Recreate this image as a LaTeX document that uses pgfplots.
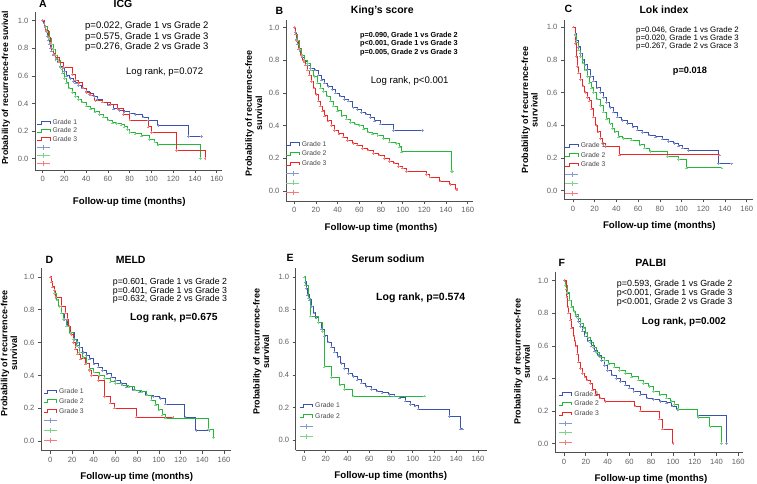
\documentclass[border=0pt]{standalone}
\usepackage{fontspec}
\setmainfont{Liberation Sans}
\usepackage{pgfplots}
\pgfplotsset{compat=1.18}
\definecolor{kmblue}{RGB}{58,82,176}
\definecolor{kmgreen}{RGB}{36,184,56}
\definecolor{kmred}{RGB}{240,36,36}
\definecolor{ticklab}{RGB}{96,96,96}
\definecolor{spine}{RGB}{80,80,80}
\definecolor{legtext}{RGB}{70,70,70}
\newcommand{\fs}[1]{\fontsize{#1}{#1}\selectfont}
\pgfplotsset{
  km/.style={scale only axis, axis x line*=bottom, axis y line*=left,
    axis line style={spine, line width=0.6pt, -}, tick style={spine, line width=0.6pt},
    tick align=outside, major tick length=3pt,
    xtick={0,20,...,160}, ytick={0,0.2,0.4,0.6,0.8,1.0},
    yticklabel style={/pgf/number format/fixed, /pgf/number format/fixed zerofill, /pgf/number format/precision=1},
    ticklabel style={font=\fs{7.6}, text=ticklab},
    /pgf/number format/assume math mode=true,
    clip=false,
    legend cell align=left,
    legend style={draw=none, fill=none, inner sep=0pt, outer sep=0pt, column sep=2pt,
      font=\fs{6.8}, text=legtext, nodes={inner sep=0pt, text height=5pt, text depth=1pt}, anchor=north west}},
  kml/.style={const plot, line width=1pt, color=#1, mark=+, mark size=1.2pt, mark options={#1!60, line width=0.5pt}, forget plot},
  stepicon/.style={legend image code/.code={\draw[##1, mark=none] (0pt,-1.5pt) -- (4pt,-1.5pt) -- (4pt,1.5pt) -- (13pt,1.5pt) -- (13pt,-1.5pt);}},
  crossicon/.style={legend image code/.code={\draw[##1, mark=none] (0pt,0pt) -- (13pt,0pt); \draw[##1, mark=none] (6.5pt,-2.5pt) -- (6.5pt,2.5pt);}},
}
\newcommand{\threelegend}{%
  \addlegendimage{stepicon, kmblue, line width=0.9pt}\addlegendentry{Grade 1}
  \addlegendimage{stepicon, kmgreen, line width=0.9pt}\addlegendentry{Grade 2}
  \addlegendimage{stepicon, kmred, line width=0.9pt}\addlegendentry{Grade 3}
  \addlegendimage{crossicon, kmblue!60, line width=0.6pt}\addlegendentry{}
  \addlegendimage{crossicon, kmgreen!60, line width=0.6pt}\addlegendentry{}
  \addlegendimage{crossicon, kmred!60, line width=0.6pt}\addlegendentry{}}
\begin{document}
\begin{tikzpicture}[x=1pt,y=1pt]
\useasboundingbox (0,0) rectangle (757,484);

% ---------------- A: ICG
\begin{axis}[km, at={(35pt,314pt)}, anchor=south west, width=186.7pt, height=158.3pt,
  xmin=-7.08, xmax=164.6, ymin=-0.082, ymax=1.065,
  legend style={at={(0.009,0.318)}, row sep=2.2pt}]
\addplot[kml=kmblue] coordinates {(0,1)(1,0.98)(2,0.95)(3,0.92)(4,0.89)(5,0.86)(6,0.83)(7,0.80)(8,0.78)(10,0.75)(12,0.72)(14,0.70)(16,0.67)(18,0.65)(20,0.63)(22,0.60)(25,0.58)(28,0.56)(30,0.55)(33,0.53)(36,0.51)(40,0.49)(43,0.47)(47,0.45)(50,0.43)(55,0.41)(60,0.39)(65,0.36)(70,0.35)(75,0.34)(80,0.33)(85,0.32)(92,0.30)(97,0.28)(106,0.24)(134,0.16)(146,0.16)};
\addplot[kml=kmgreen] coordinates {(0,1)(2,0.96)(4,0.92)(6,0.87)(8,0.83)(10,0.79)(12,0.75)(14,0.71)(16,0.66)(18,0.62)(20,0.58)(22,0.55)(24,0.51)(27,0.48)(30,0.45)(33,0.43)(36,0.41)(40,0.38)(44,0.36)(48,0.34)(52,0.32)(56,0.30)(60,0.28)(64,0.26)(68,0.255)(72,0.245)(75,0.23)(78,0.21)(80,0.19)(85,0.18)(91,0.165)(98,0.14)(103,0.12)(106,0.10)(145,0)};
\addplot[kml=kmred] coordinates {(0,1)(2,0.96)(3,0.93)(5,0.88)(7,0.84)(8,0.80)(10,0.76)(12,0.73)(15,0.70)(19,0.66)(27,0.61)(30,0.57)(33,0.55)(37,0.51)(40,0.48)(44,0.46)(48,0.42)(55,0.41)(62,0.39)(69,0.36)(74,0.32)(80,0.28)(97,0.23)(100,0.19)(123,0.06)(149.5,0)};
\threelegend
\end{axis}

% ---------------- B: King's score
\begin{axis}[km, at={(286pt,283pt)}, anchor=south west, width=187.3pt, height=181pt,
  xmin=-7.66, xmax=165.2, ymin=-0.0612, ymax=1.047,
  legend style={at={(0.0,0.331)}, row sep=3.7pt}]
\addplot[kml=kmblue] coordinates {(0,1)(1,0.97)(2,0.93)(3,0.90)(5,0.86)(7,0.82)(9,0.79)(12,0.77)(15,0.75)(19,0.74)(22,0.71)(25,0.68)(28,0.66)(31,0.64)(35,0.62)(38,0.60)(42,0.58)(46,0.56)(50,0.55)(54,0.51)(58,0.50)(62,0.48)(66,0.47)(70,0.45)(74,0.43)(79.6,0.41)(91.6,0.37)(118.4,0.37)};
\addplot[kml=kmgreen] coordinates {(0,1)(1,0.96)(3,0.92)(5,0.87)(7,0.83)(9,0.80)(12,0.78)(15,0.74)(18,0.70)(21,0.66)(24,0.63)(27,0.61)(30,0.58)(33,0.55)(36,0.52)(40,0.49)(44,0.46)(48,0.44)(52,0.42)(56,0.41)(60,0.40)(64,0.38)(68,0.36)(72,0.35)(77,0.34)(82,0.32)(88,0.30)(94.5,0.29)(97,0.27)(99,0.24)(145.2,0.12)(146,0.12)};
\addplot[kml=kmred] coordinates {(0,1)(1,0.96)(2,0.92)(4,0.87)(6,0.83)(8,0.80)(10,0.77)(12,0.74)(14,0.71)(16,0.67)(18,0.63)(20,0.59)(22,0.55)(24,0.52)(26,0.49)(28,0.46)(31,0.43)(34,0.40)(37,0.37)(41,0.35)(45,0.33)(49,0.31)(54,0.29)(58,0.28)(63,0.26)(68,0.25)(73,0.23)(78,0.22)(83,0.20)(88,0.18)(92,0.17)(96,0.15)(100,0.14)(103.7,0.12)(122,0.10)(125,0.085)(134.4,0.06)(143.6,0.04)(149,0.01)(150,0.01)};
\threelegend
\end{axis}

% ---------------- C: Lok index
\begin{axis}[km, at={(564pt,284.7pt)}, anchor=south west, width=189.3pt, height=179.3pt,
  xmin=-8.29, xmax=166.1, ymin=-0.0526, ymax=1.0447,
  legend style={at={(0.005,0.316)}, row sep=3.5pt}]
\addplot[kml=kmblue] coordinates {(0,1)(2,0.96)(3,0.92)(5,0.88)(7,0.84)(9,0.80)(11,0.77)(13,0.74)(16,0.70)(19,0.67)(22,0.63)(25,0.60)(28,0.57)(31,0.54)(34,0.51)(37,0.48)(41,0.45)(45,0.43)(50,0.41)(55,0.39)(59,0.37)(64,0.355)(70,0.34)(76,0.33)(82,0.315)(88,0.30)(93,0.29)(97,0.275)(101,0.26)(106,0.245)(134,0.165)(146,0.165)};
\addplot[kml=kmgreen] coordinates {(0,1)(2,0.95)(3,0.91)(5,0.86)(7,0.82)(9,0.78)(11,0.74)(13,0.70)(15,0.66)(17,0.63)(19,0.60)(22,0.56)(25,0.52)(28,0.48)(31,0.44)(34,0.41)(36,0.38)(38.6,0.36)(42,0.33)(46,0.32)(54,0.31)(61.6,0.28)(66,0.26)(70.8,0.24)(87,0.21)(97,0.19)(104.5,0.14)(137,0.14)};
\addplot[kml=kmred] coordinates {(0,1)(2,0.90)(3,0.82)(4,0.76)(5,0.72)(7,0.68)(9,0.64)(11,0.60)(13,0.57)(15,0.55)(17,0.50)(19,0.45)(21,0.40)(23,0.36)(25,0.32)(27,0.29)(29.5,0.27)(43,0.22)(135,0.22)};
\threelegend
\end{axis}

% ---------------- D: MELD
\begin{axis}[km, at={(41pt,33.3pt)}, anchor=south west, width=189.7pt, height=182.4pt,
  xmin=-8.57, xmax=166.2, ymin=-0.0591, ymax=1.053,
  legend style={at={(0.012,0.34)}, row sep=3.7pt}]
\addplot[kml=kmblue] coordinates {(0,1)(1,0.97)(2,0.94)(4,0.90)(6,0.86)(8,0.82)(10,0.78)(13,0.74)(16,0.70)(19,0.66)(22,0.62)(25,0.60)(27,0.57)(30,0.54)(33,0.52)(36,0.50)(40,0.47)(44,0.45)(48,0.43)(52,0.41)(56,0.39)(60,0.37)(65,0.35)(70,0.33)(76,0.31)(82,0.30)(88,0.28)(95,0.27)(101,0.26)(106,0.225)(124,0.145)(134,0.065)(146,0.065)};
\addplot[kml=kmgreen] coordinates {(0,1)(1,0.97)(2,0.94)(4,0.90)(6,0.86)(8,0.82)(10,0.78)(12,0.74)(15,0.70)(18,0.66)(21,0.62)(24,0.58)(27,0.54)(30,0.51)(33,0.47)(36,0.44)(40,0.42)(45,0.40)(50,0.38)(55,0.36)(60,0.35)(66,0.34)(72,0.33)(78,0.31)(84,0.30)(89,0.28)(93,0.25)(97,0.22)(100,0.19)(103,0.16)(106,0.14)(145.8,0.07)(150.4,0.02)};
\addplot[kml=kmred] coordinates {(0,1)(1,0.97)(2,0.94)(4,0.92)(5,0.875)(10,0.82)(14,0.78)(15.5,0.74)(17,0.70)(19,0.65)(21,0.60)(23,0.56)(25,0.53)(28,0.50)(32,0.47)(36,0.43)(38,0.40)(44,0.37)(50,0.27)(55,0.23)(59,0.20)(79,0.145)(113,0.145)};
\threelegend
\end{axis}

% ---------------- E: Serum sodium
\begin{axis}[km, at={(295.7pt,34pt)}, anchor=south west, width=191.6pt, height=181.7pt,
  xmin=-7.63, xmax=168.6, ymin=-0.0594, ymax=1.053,
  legend style={at={(0.019,0.26)}, row sep=4.3pt}]
\addplot[kml=kmblue] coordinates {(0,1)(1,0.97)(2,0.93)(3,0.89)(5,0.86)(7,0.82)(9,0.78)(11,0.75)(13,0.72)(16,0.68)(19,0.64)(22,0.60)(25,0.57)(28,0.54)(31,0.51)(34,0.47)(37,0.44)(41,0.41)(45,0.39)(49,0.37)(53,0.35)(57,0.33)(62,0.31)(67,0.30)(72,0.29)(78,0.28)(83,0.27)(88,0.26)(93,0.24)(98,0.22)(102,0.21)(105,0.19)(133.6,0.145)(144,0.07)(146,0.07)};
\addplot[kml=kmgreen] coordinates {(0,1)(1,0.95)(4,0.87)(6,0.76)(13,0.72)(17,0.665)(18.5,0.45)(25,0.385)(33,0.34)(37,0.31)(45,0.27)(111,0.27)};
\addlegendimage{stepicon, kmblue, line width=0.9pt}\addlegendentry{Grade 1}
\addlegendimage{stepicon, kmgreen, line width=0.9pt}\addlegendentry{Grade 2}
\addlegendimage{crossicon, kmblue!60, line width=0.6pt}\addlegendentry{}
\addlegendimage{crossicon, kmgreen!60, line width=0.6pt}\addlegendentry{}
\end{axis}

% ---------------- F: PALBI
\begin{axis}[km, at={(555pt,31.3pt)}, anchor=south west, width=188.3pt, height=181pt,
  xmin=-8.26, xmax=164.6, ymin=-0.0552, ymax=1.055,
  legend style={at={(0.018,0.339)}, row sep=3.6pt}]
\addplot[kml=kmblue] coordinates {(0,1)(1,0.97)(2,0.95)(3,0.92)(5,0.88)(7,0.84)(9,0.81)(11,0.78)(13,0.75)(15,0.72)(17,0.69)(19,0.66)(22,0.63)(25,0.60)(28,0.57)(31,0.54)(34,0.51)(37,0.48)(40,0.45)(44,0.42)(48,0.40)(52,0.38)(56,0.36)(60,0.34)(64,0.32)(70,0.30)(76,0.28)(82,0.27)(88,0.26)(94,0.25)(99,0.23)(103.5,0.21)(123,0.17)(149,0)};
\addplot[kml=kmgreen] coordinates {(0,1)(1,0.97)(3,0.93)(5,0.88)(7,0.84)(9,0.81)(11,0.79)(13,0.77)(15,0.74)(18,0.71)(20,0.68)(22,0.65)(24,0.62)(27,0.59)(30,0.56)(33,0.53)(37,0.51)(41,0.49)(46,0.47)(51,0.45)(56,0.43)(62,0.41)(68,0.39)(73,0.37)(78,0.35)(82,0.32)(88,0.30)(94,0.28)(98,0.26)(101,0.24)(104.7,0.21)(123,0.16)(134,0.104)(144.7,0)};
\addplot[kml=kmred] coordinates {(0,1)(2,0.95)(2.5,0.90)(3.5,0.84)(4,0.80)(5.8,0.76)(7,0.71)(9,0.66)(10,0.63)(11,0.60)(12.2,0.55)(13,0.50)(15,0.46)(16.8,0.43)(19,0.41)(21,0.39)(24,0.37)(26,0.33)(29,0.30)(33,0.28)(37.6,0.26)(65,0.23)(70,0.20)(87.5,0.15)(90.6,0.09)(100,0)};
\threelegend
\end{axis}

% ---------------- texts
\begin{scope}[every node/.style={inner sep=0pt, text=black}]
% panel titles
\node[font=\fs{10.5}\bfseries] at (43,480) {A};
\node[font=\fs{10.5}\bfseries] at (123,480) {ICG};
\node[font=\fs{10.5}\bfseries] at (279.3,473.3) {B};
\node[font=\fs{10.5}\bfseries] at (382.3,473.3) {King's score};
\node[font=\fs{10.5}\bfseries] at (568.3,474.7) {C};
\node[font=\fs{10.5}\bfseries] at (664,474.7) {Lok index};
\node[font=\fs{10.5}\bfseries] at (49.3,224) {D};
\node[font=\fs{10.5}\bfseries] at (130.7,224) {MELD};
\node[font=\fs{10.5}\bfseries] at (290,225.7) {E};
\node[font=\fs{10.5}\bfseries] at (388,225) {Serum sodium};
\node[font=\fs{10.5}\bfseries] at (561.7,221.3) {F};
\node[font=\fs{10.5}\bfseries] at (650.7,221.3) {PALBI};
% annotations A
\node[font=\fs{9.5}, anchor=base west] at (85,455) {p=0.022, Grade 1 vs Grade 2};
\node[font=\fs{9.5}, anchor=base west] at (85,444.5) {p=0.575, Grade 1 vs Grade 3};
\node[font=\fs{9.5}, anchor=base west] at (85,434) {p=0.276, Grade 2 vs Grade 3};
\node[font=\fs{9.5}, anchor=base west] at (126,409.6) {Log rank, p=0.072};
% annotations B
\node[font=\fs{7.3}\bfseries, anchor=base west] at (360,446.4) {p=0.090, Grade 1 vs Grade 2};
\node[font=\fs{7.3}\bfseries, anchor=base west] at (360,438.1) {p<0.001, Grade 1 vs Grade 3};
\node[font=\fs{7.3}\bfseries, anchor=base west] at (360,429.7) {p=0.005, Grade 2 vs Grade 3};
\node[font=\fs{9.6}, anchor=base west] at (370.7,400.6) {Log rank, p<0.001};
% annotations C
\node[font=\fs{7.9}, anchor=base west] at (636,451.2) {p=0.046, Grade 1 vs Grade 2};
\node[font=\fs{7.9}, anchor=base west] at (636,443.5) {p=0.020, Grade 1 vs Grade 3};
\node[font=\fs{7.9}, anchor=base west] at (636,435.5) {p=0.267, Grade 2 vs Grace 3};
\node[font=\fs{9.2}\bfseries, anchor=base west] at (672.7,410.7) {p=0.018};
% annotations D
\node[font=\fs{8.8}, anchor=base west] at (112.7,199.1) {p=0.601, Grade 1 vs Grade 2};
\node[font=\fs{8.8}, anchor=base west] at (112.7,190.8) {p=0.401, Grade 1 vs Grade 3};
\node[font=\fs{8.8}, anchor=base west] at (112.7,182.5) {p=0.632, Grade 2 vs Grade 3};
\node[font=\fs{10.3}\bfseries, anchor=base west] at (130,163.6) {Log rank, p=0.675};
% annotations E
\node[font=\fs{10.5}\bfseries, anchor=base west] at (376,183) {Log rank, p=0.574};
% annotations F
\node[font=\fs{8.9}, anchor=base west] at (616.7,197.5) {p=0.593, Grade 1 vs Grade 2};
\node[font=\fs{8.9}, anchor=base west] at (616.7,188.1) {p<0.001, Grade 1 vs Grade 3};
\node[font=\fs{8.9}, anchor=base west] at (616.7,179.1) {p<0.001, Grade 2 vs Grade 3};
\node[font=\fs{9.9}\bfseries, anchor=base west] at (641.7,159.4) {Log rank, p=0.002};
% x axis titles
\node[font=\fs{9.7}\bfseries] at (129.3,282.3) {Follow-up time (months)};
\node[font=\fs{9.7}\bfseries] at (381,256.3) {Follow-up time (months)};
\node[font=\fs{9.7}\bfseries] at (659.3,258.3) {Follow-up time (months)};
\node[font=\fs{9.7}\bfseries] at (136.7,6.7) {Follow-up time (months)};
\node[font=\fs{9.7}\bfseries] at (390.7,8) {Follow-up time (months)};
\node[font=\fs{9.7}\bfseries] at (651,5) {Follow-up time (months)};
% y axis titles
\node[font=\fs{8.7}\bfseries, rotate=90] at (6,396) {Probability of recurrence-free suvival};
\node[font=\fs{9}\bfseries, rotate=90] at (249.5,370.7) {Probability of recurrence-free};
\node[font=\fs{9}\bfseries, rotate=90] at (259,370.7) {survival};
\node[font=\fs{9}\bfseries, rotate=90] at (525.7,374) {Probability of recurrence-free};
\node[font=\fs{9}\bfseries, rotate=90] at (534.3,374) {survival};
\node[font=\fs{9}\bfseries, rotate=90] at (5,130.7) {Probability of recurrence-free};
\node[font=\fs{9}\bfseries, rotate=90] at (14,130.7) {survival};
\node[font=\fs{9}\bfseries, rotate=90] at (257.3,132.3) {Probability of recurrence-free};
\node[font=\fs{9}\bfseries, rotate=90] at (266,132.3) {survival};
\node[font=\fs{9}\bfseries, rotate=90] at (518.3,122.3) {Probability of recurrence-free};
\node[font=\fs{9}\bfseries, rotate=90] at (526.7,122.3) {survival};
\end{scope}
\end{tikzpicture}
\end{document}
